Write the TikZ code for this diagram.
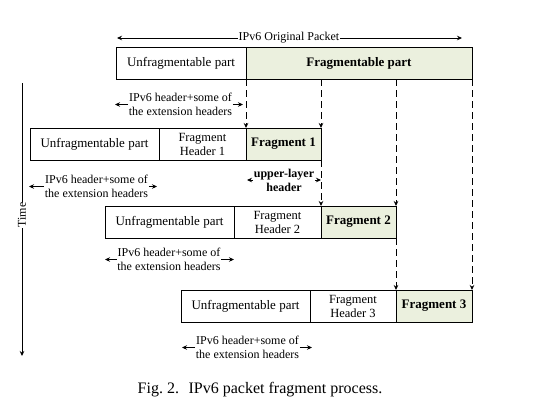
\documentclass[tikz,border=0pt]{standalone}
\usepackage{fontspec}
\setmainfont{Liberation Serif}
\usetikzlibrary{arrows.meta}
\definecolor{fragfill}{RGB}{235,240,222}
\begin{document}
\begin{tikzpicture}[x=1pt,y=-1pt,
  box/.style={draw,line width=1pt,minimum height=32pt,inner sep=0pt,outer sep=0pt,font=\fontsize{13}{15}\selectfont},
  fragbox/.style={box,fill=fragfill,font=\fontsize{13}{15}\selectfont\bfseries},
  hdrbox/.style={box,align=center,font=\fontsize{12.5}{14}\selectfont},
  lbl/.style={align=center,inner sep=0.5pt,font=\fontsize{12}{14.5}\selectfont},
  tip/.style={line width=0.8pt,-{Stealth[length=5pt,width=4.5pt]}},
  dsh/.style={tip,dash pattern=on 7pt off 4pt}
]
\useasboundingbox (0,0) rectangle (557,410);

% original packet
\node[box,minimum width=130pt] (U0) at (181,63) {Unfragmentable part};
\node[box,fill=fragfill,minimum width=226pt,font=\fontsize{13}{15}\selectfont\bfseries] (F0) at (359,63) {Fragmentable part};

\node[lbl] (T) at (289,38) {IPv6 Original Packet};
\coordinate (TL) at (117,38);
\coordinate (TR) at (462,38);
\draw[tip] (T.west) -- (TL);
\draw[tip] (T.east) -- (TR);

% row 1
\node[box,minimum width=129pt,anchor=west] (U1) at (30,144) {Unfragmentable part};
\node[hdrbox,minimum width=87pt,anchor=west] (H1) at (U1.east) {Fragment\\Header 1};
\node[fragbox,minimum width=75pt,anchor=west] (P1) at (H1.east) {Fragment 1};

% row 2
\node[box,minimum width=129pt,anchor=west] (U2) at (105,222) {Unfragmentable part};
\node[hdrbox,minimum width=87pt,anchor=west] (H2) at (U2.east) {Fragment\\Header 2};
\node[fragbox,minimum width=75pt,anchor=west] (P2) at (H2.east) {Fragment 2};

% row 3
\node[box,minimum width=129pt,anchor=west] (U3) at (181,306) {Unfragmentable part};
\node[hdrbox,minimum width=86pt,anchor=west] (H3) at (U3.east) {Fragment\\Header 3};
\node[fragbox,minimum width=76pt,anchor=west] (P3) at (H3.east) {Fragment 3};

% labels
\node[lbl] (L0) at (180.5,104.5) {IPv6 header+some of\\the extension headers};
\coordinate (L0a) at (115,104.5); \coordinate (L0b) at (243,104.5);
\draw[tip] (L0.west) -- (L0a); \draw[tip] (L0.east) -- (L0b);

\node[lbl] (L1) at (96.5,186.5) {IPv6 header+some of\\the extension headers};
\coordinate (L1a) at (29,186.5); \coordinate (L1b) at (157,186.5);
\draw[tip] (L1.west) -- (L1a); \draw[tip] (L1.east) -- (L1b);

\node[lbl] (L2) at (169,259.5) {IPv6 header+some of\\the extension headers};
\coordinate (L2a) at (105,259.5); \coordinate (L2b) at (234,259.5);
\draw[tip] (L2.west) -- (L2a); \draw[tip] (L2.east) -- (L2b);

\node[lbl] (L3) at (247.5,347.5) {IPv6 header+some of\\the extension headers};
\coordinate (L3a) at (182,347.5); \coordinate (L3b) at (312,347.5);
\draw[tip] (L3.west) -- (L3a); \draw[tip] (L3.east) -- (L3b);

\node[lbl,font=\fontsize{12}{14}\selectfont\bfseries] (UL) at (284,180) {upper-layer\\header};
\coordinate (ULa) at (247,180); \coordinate (ULb) at (321,180);
\draw[tip] (UL.west) -- (ULa); \draw[tip] (UL.east) -- (ULb);

% dashed fragment guides
\draw[dsh] (P1.north west |- F0.south) -- (P1.north west);
\draw[dsh] (P1.north east |- F0.south) -- (P1.north east);
\draw[dsh] (P1.south east) -- (P2.north west);
\draw[dsh] (P2.north east |- F0.south) -- (P2.north east);
\draw[dsh] (P2.south east) -- (P3.north west);
\draw[dsh] (F0.south east) -- (P3.north east);

% time axis
\node[lbl,rotate=90] (TM) at (22,215) {Time};
\coordinate (TA) at (22,83);
\coordinate (TB) at (22,356);
\draw[line width=0.8pt] (TA) -- (TM.east);
\draw[tip] (TM.west) -- (TB);

% caption
\node[font=\fontsize{16}{18}\selectfont] (cap) at (260,390) {Fig.~2.\hspace{0.6em}IPv6 packet fragment process.};
\end{tikzpicture}
\end{document}
